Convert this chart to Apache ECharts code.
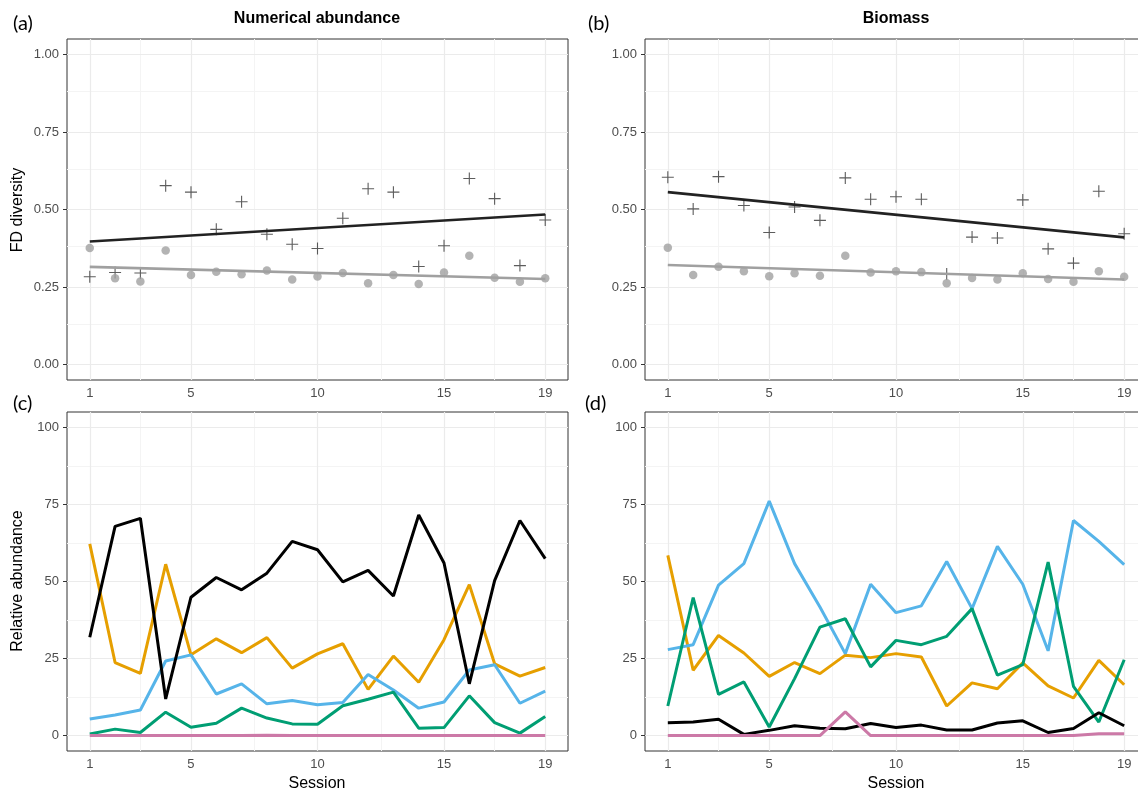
<!DOCTYPE html>
<html>
<head>
<meta charset="utf-8">
<script src="https://cdn.jsdelivr.net/npm/echarts@6/dist/echarts.min.js"></script>
<style>
  html, body { margin: 0; padding: 0; background: #fff; }
  #chart { width: 1138px; height: 794px; }
</style>
</head>
<body>
<div id="chart"></div>
<script>
// sessions and tick labels
var sessions = [1, 2, 3, 4, 5, 6, 7, 8, 9, 10, 11, 12, 13, 14, 15, 16, 17, 18, 19];
var sessionTicks = [1, 5, 10, 15, 19];
var sessionMinor = [3, 7.5, 12.5, 17];
var fdTicks = [0, 0.25, 0.5, 0.75, 1];
var fdMinor = [0.125, 0.375, 0.625, 0.875];
var relTicks = [0, 25, 50, 75, 100];
var relMinor = [12.5, 37.5, 62.5, 87.5];

// (a) numerical abundance - FD diversity
var abundCross = [0.283, 0.297, 0.295, 0.577, 0.556, 0.436, 0.525, 0.420, 0.388, 0.374,
                  0.472, 0.567, 0.556, 0.316, 0.383, 0.600, 0.535, 0.319, 0.466];
var abundDot = [0.376, 0.278, 0.268, 0.368, 0.289, 0.299, 0.291, 0.303, 0.274, 0.284,
                0.295, 0.262, 0.289, 0.260, 0.297, 0.351, 0.280, 0.267, 0.278];
var abundCrossFit = [0.397, 0.484];   // fitted at session 1 and 19
var abundDotFit = [0.315, 0.276];

// (b) biomass - FD diversity
var bioCross = [0.604, 0.502, 0.606, 0.513, 0.426, 0.508, 0.465, 0.602, 0.533, 0.541,
                0.533, 0.292, 0.411, 0.408, 0.531, 0.373, 0.327, 0.559, 0.422];
var bioDot = [0.377, 0.289, 0.315, 0.301, 0.285, 0.294, 0.286, 0.351, 0.297, 0.301,
              0.298, 0.262, 0.279, 0.274, 0.294, 0.276, 0.267, 0.301, 0.283];
var bioCrossFit = [0.556, 0.410];
var bioDotFit = [0.321, 0.274];

// (c) relative abundance, numerical
var numBlack = [31.9, 67.9, 70.5, 11.9, 44.9, 51.3, 47.3, 52.7, 63.0, 60.3,
                49.9, 53.6, 45.3, 71.6, 56.0, 16.8, 50.3, 69.8, 57.4];
var numOrange = [62.2, 23.7, 20.2, 55.6, 26.2, 31.4, 26.9, 31.8, 21.9, 26.5,
                 29.8, 15.0, 25.8, 17.3, 31.1, 49.0, 23.3, 19.3, 22.1];
var numBlue = [5.4, 6.7, 8.3, 24.2, 26.2, 13.5, 16.8, 10.3, 11.4, 10.0,
               10.7, 19.8, 14.8, 8.9, 10.9, 21.3, 23.0, 10.5, 14.4];
var numGreen = [0.5, 2.1, 1.0, 7.6, 2.7, 4.0, 8.9, 5.7, 3.8, 3.7,
                9.7, 11.8, 14.1, 2.4, 2.6, 12.9, 4.2, 0.8, 6.2];
var numPink = [0, 0, 0, 0, 0, 0, 0, 0.1, 0, 0,
               0, 0, 0, 0, 0, 0, 0, 0, 0];

// (d) relative abundance, biomass
var bioBlack = [4.2, 4.4, 5.3, 0.4, 1.7, 3.2, 2.4, 2.2, 3.9, 2.6,
                3.4, 1.8, 1.8, 4.1, 4.8, 1.0, 2.3, 7.4, 3.2];
var bioOrange = [58.5, 21.2, 32.5, 26.8, 19.2, 23.7, 20.1, 26.1, 25.3, 26.6,
                 25.5, 9.6, 17.1, 15.2, 23.6, 16.1, 12.2, 24.4, 16.5];
var bioBlue = [27.9, 29.5, 48.8, 55.8, 76.1, 55.8, 41.7, 26.6, 49.1, 39.9,
               42.1, 56.5, 41.2, 61.4, 49.1, 27.5, 69.8, 63.0, 55.5];
var bioGreen = [9.6, 44.8, 13.4, 17.4, 2.8, 18.5, 35.2, 37.9, 22.3, 30.9,
                29.5, 32.2, 41.2, 19.6, 23.0, 56.3, 16.0, 4.4, 24.6];
var bioPink = [0, 0, 0, 0, 0, 0, 0, 7.7, 0, 0,
               0, 0, 0, 0, 0, 0, 0, 0.6, 0.6];

var FONT = '"Liberation Sans", Arial, sans-serif';
var CROSS = 'path://M0,5.45H12V6.55H0Z M5.45,0H6.55V12H5.45Z';

function pairs(vals) {
  return sessions.map(function (s, i) { return [s, vals[i]]; });
}
function fitPairs(ends) {
  return [[sessions[0], ends[0]], [sessions[sessions.length - 1], ends[1]]];
}

var myChart = echarts.init(document.getElementById('chart'));

// panel (b) and (d) run past the right edge of the picture
var boxes = [
  { left: 67, top: 39, width: 501, height: 341 },
  { left: 645, top: 39, width: 502, height: 341 },
  { left: 67, top: 412, width: 501, height: 339 },
  { left: 645, top: 412, width: 502, height: 339 }
];

var grids = boxes.map(function (b) {
  return {
    left: b.left, top: b.top, width: b.width, height: b.height,
    outerBoundsMode: 'none', containLabel: false,
    show: true, borderColor: '#333', borderWidth: 1, backgroundColor: 'transparent'
  };
});

var xAxes = boxes.map(function (b, i) {
  return {
    type: 'value', gridIndex: i, min: 0.1, max: 19.9,
    splitLine: { show: false },
    axisLine: { show: false },
    axisTick: { show: true, customValues: sessionTicks, length: 4, lineStyle: { color: '#333', width: 1 } },
    axisLabel: { customValues: sessionTicks, color: '#4D4D4D', fontSize: 13, fontFamily: FONT, margin: 7 }
  };
});

var yAxes = boxes.map(function (b, i) {
  var top = i < 2;
  return {
    type: 'value', gridIndex: i,
    min: top ? -0.05 : -5, max: top ? 1.05 : 105,
    splitLine: { show: false },
    axisLine: { show: false },
    axisTick: { show: true, customValues: top ? fdTicks : relTicks, length: 4, lineStyle: { color: '#333', width: 1 } },
    axisLabel: {
      customValues: top ? fdTicks : relTicks, color: '#4D4D4D', fontSize: 13, fontFamily: FONT, margin: 8,
      formatter: function (v) { return top ? v.toFixed(2) : String(v); }
    }
  };
});

// background grid lines through the axis scales
function gridLines(i) {
  var top = i < 2;
  var major = { color: '#EBEBEB', width: 1.2, type: 'solid' };
  var minor = { color: '#F4F4F4', width: 1, type: 'solid' };
  var d = [];
  sessionMinor.forEach(function (v) { d.push({ xAxis: v, lineStyle: minor }); });
  (top ? fdMinor : relMinor).forEach(function (v) { d.push({ yAxis: v, lineStyle: minor }); });
  sessionTicks.forEach(function (v) { d.push({ xAxis: v, lineStyle: major }); });
  (top ? fdTicks : relTicks).forEach(function (v) { d.push({ yAxis: v, lineStyle: major }); });
  return {
    type: 'line', xAxisIndex: i, yAxisIndex: i, data: [], silent: true, z: 1,
    markLine: { silent: true, z: 1, symbol: ['none', 'none'], label: { show: false }, animation: false, data: d }
  };
}

function crossSeries(i, vals) {
  return {
    type: 'scatter', xAxisIndex: i, yAxisIndex: i, data: pairs(vals), z: 3,
    symbol: CROSS, symbolSize: 12, itemStyle: { color: '#333' }
  };
}
function dotSeries(i, vals) {
  return {
    type: 'scatter', xAxisIndex: i, yAxisIndex: i, data: pairs(vals), z: 3,
    symbol: 'circle', symbolSize: 8.5, itemStyle: { color: '#A0A0A0' }
  };
}
function fitSeries(i, ends, color) {
  return {
    type: 'line', xAxisIndex: i, yAxisIndex: i, data: fitPairs(ends), z: 4,
    symbol: 'none', lineStyle: { color: color, width: 2.6 }
  };
}
function relSeries(i, vals, color) {
  return {
    type: 'line', xAxisIndex: i, yAxisIndex: i, data: pairs(vals), z: 3,
    symbol: 'none', lineStyle: { color: color, width: 3 }
  };
}

var series = [
  gridLines(0), gridLines(1), gridLines(2), gridLines(3),
  crossSeries(0, abundCross), dotSeries(0, abundDot),
  fitSeries(0, abundCrossFit, '#222'), fitSeries(0, abundDotFit, '#A0A0A0'),
  crossSeries(1, bioCross), dotSeries(1, bioDot),
  fitSeries(1, bioCrossFit, '#222'), fitSeries(1, bioDotFit, '#A0A0A0'),
  relSeries(2, numOrange, '#E69F00'), relSeries(2, numBlue, '#56B4E9'),
  relSeries(2, numGreen, '#009E73'), relSeries(2, numBlack, '#000000'),
  relSeries(2, numPink, '#CC79A7'),
  relSeries(3, bioOrange, '#E69F00'), relSeries(3, bioBlue, '#56B4E9'),
  relSeries(3, bioGreen, '#009E73'), relSeries(3, bioBlack, '#000000'),
  relSeries(3, bioPink, '#CC79A7')
];

function label(text, x, y, opts) {
  opts = opts || {};
  return {
    type: 'text', x: x, y: y, rotation: opts.rotation || 0, silent: true,
    style: {
      text: text, fill: opts.fill || '#000',
      font: opts.font || ('16px ' + FONT),
      textAlign: opts.align || 'center', textVerticalAlign: 'middle'
    }
  };
}

var graphics = [
  label('(a)', 13, 24, { font: '20px Lato, "Open Sans", sans-serif', align: 'left' }),
  label('(b)', 588, 24, { font: '20px Lato, "Open Sans", sans-serif', align: 'left' }),
  label('(c)', 13, 404, { font: '20px Lato, "Open Sans", sans-serif', align: 'left' }),
  label('(d)', 585, 404, { font: '20px Lato, "Open Sans", sans-serif', align: 'left' }),
  label('Numerical abundance', 317, 19, { font: 'bold 16px ' + FONT }),
  label('Biomass', 896, 19, { font: 'bold 16px ' + FONT }),
  label('FD diversity', 18, 210, { rotation: Math.PI / 2 }),
  label('Relative abundance', 18, 581, { rotation: Math.PI / 2 }),
  label('Session', 317, 784),
  label('Session', 896, 784)
];

var option = {
  animation: false,
  backgroundColor: '#fff',
  grid: grids,
  xAxis: xAxes,
  yAxis: yAxes,
  series: series,
  graphic: graphics
};

myChart.setOption(option);
</script>
</body>
</html>
